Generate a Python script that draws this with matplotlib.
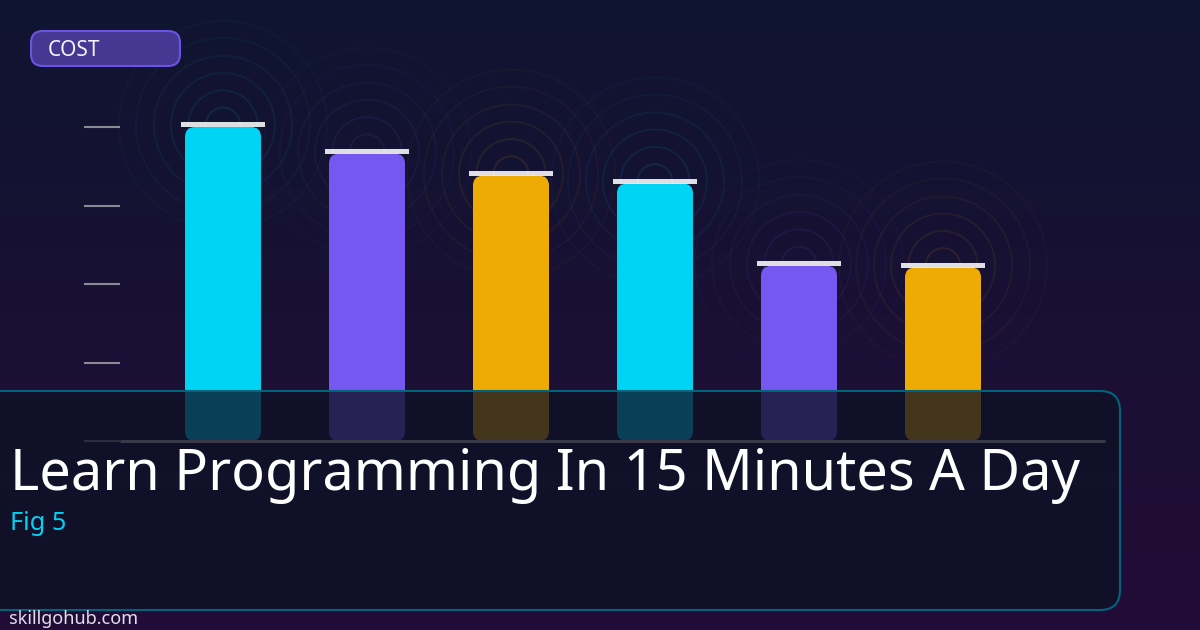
import numpy as np
import matplotlib
matplotlib.use("Agg")
import matplotlib.pyplot as plt
from matplotlib.patches import FancyBboxPatch, Ellipse, Rectangle

plt.rcParams['font.family'] = ['Noto Sans', 'DejaVu Sans']

# values, in tick steps (the ticks carry no labels)
values = [4.0, 3.66, 3.38, 3.28, 2.23, 2.21]
bar_colors = ['#00d4f5', '#7558ef', '#eeab04', '#00d4f5', '#7558ef', '#eeab04']
y_ticks = [0, 1, 2, 3, 4]
badge_label = 'COST'
title = 'Learn Programming In 15 Minutes A Day'
subtitle = 'Fig 5'
site = 'skillgohub.com'

W, H = 1200, 630
px_x = 144.0  # pixels per bar slot
px_y = 78.5   # pixels per tick step
ring_radii = [17.3, 34.6, 52, 69, 87, 104]
ring_alpha = [0.11, 0.09, 0.075, 0.06, 0.045, 0.03]

fig = plt.figure(figsize=(W / 100, H / 100), dpi=100)

# background gradient
bg = fig.add_axes([0, 0, 1, 1], zorder=0)
top_c = np.array([15, 21, 48]) / 255
bottom_c = np.array([35, 12, 56]) / 255
t = np.linspace(0, 1, 256)[:, None, None]
bg.imshow(top_c * (1 - t) + bottom_c * t, aspect='auto', extent=[0, 1, 0, 1])
bg.axis('off')

# chart axes, baseline at y=441 and spanning x=120..1105
ax = fig.add_axes([120 / W, (H - 441) / H, 985 / W, 5 * px_y / H], zorder=1)
ax.patch.set_alpha(0)
ax.set_xlim((120 - 223) / px_x, (1105 - 223) / px_x)
ax.set_ylim(0, 5)
ax.set_yticks(y_ticks)
ax.set_yticklabels([])
ax.set_xticks([])
ax.tick_params(axis='y', length=36 * 0.72, width=1.5, color='#8a8a94')
for name in ['top', 'right', 'left']:
    ax.spines[name].set_visible(False)
ax.spines['bottom'].set_color('#c4b4c0')
ax.spines['bottom'].set_linewidth(2.2)
ax.spines['bottom'].set_capstyle('butt')

bar_w = 76 / px_x
cap_w = 84 / px_x
cap_h = 5 / px_y
for i, (v, c) in enumerate(zip(values, bar_colors)):
    for r, a in zip(ring_radii, ring_alpha):
        ax.add_patch(Ellipse((i, v + 2 / px_y), 2 * r / px_x, 2 * r / px_y, fill=False,
                             edgecolor=c, alpha=a, lw=1.4, clip_on=False, zorder=1))
    ax.add_patch(FancyBboxPatch((i - bar_w / 2, 0), bar_w, v,
                                boxstyle=f'round,pad=0,rounding_size={10 / px_x}',
                                mutation_aspect=px_x / px_y,
                                facecolor=c, edgecolor='none', clip_on=False, zorder=2))
    ax.add_patch(Rectangle((i - cap_w / 2, v), cap_w, cap_h, facecolor='#ffffff', alpha=0.87,
                           edgecolor='none', clip_on=False, zorder=3))

# overlay in pixel coordinates: panel, badge, text
ov = fig.add_axes([0, 0, 1, 1], zorder=2)
ov.patch.set_alpha(0)
ov.set_xlim(0, W)
ov.set_ylim(H, 0)
ov.axis('off')

ov.add_patch(FancyBboxPatch((-40, 391), 1160, 219, boxstyle='round,pad=0,rounding_size=20',
                            facecolor=(13 / 255, 18 / 255, 37 / 255, 0.76),
                            edgecolor='#04637c', lw=1.5))
ov.add_patch(FancyBboxPatch((31, 31), 149, 35, boxstyle='round,pad=0,rounding_size=12',
                            facecolor='#463892', edgecolor='#6a55e2', lw=1.5))
ov.text(48, 56, badge_label, color='#f2f2fa', fontsize=15, va='baseline', ha='left')
ov.text(10, 490, title, color='#ffffff', fontsize=40.25, va='baseline', ha='left')
ov.text(10, 530, subtitle, color='#00d4f5', fontsize=18.2, va='baseline', ha='left')
ov.text(9.5, 624, site, color='#e0e0e8', fontsize=13, va='baseline', ha='left')

fig.savefig('out.png', dpi=100)
